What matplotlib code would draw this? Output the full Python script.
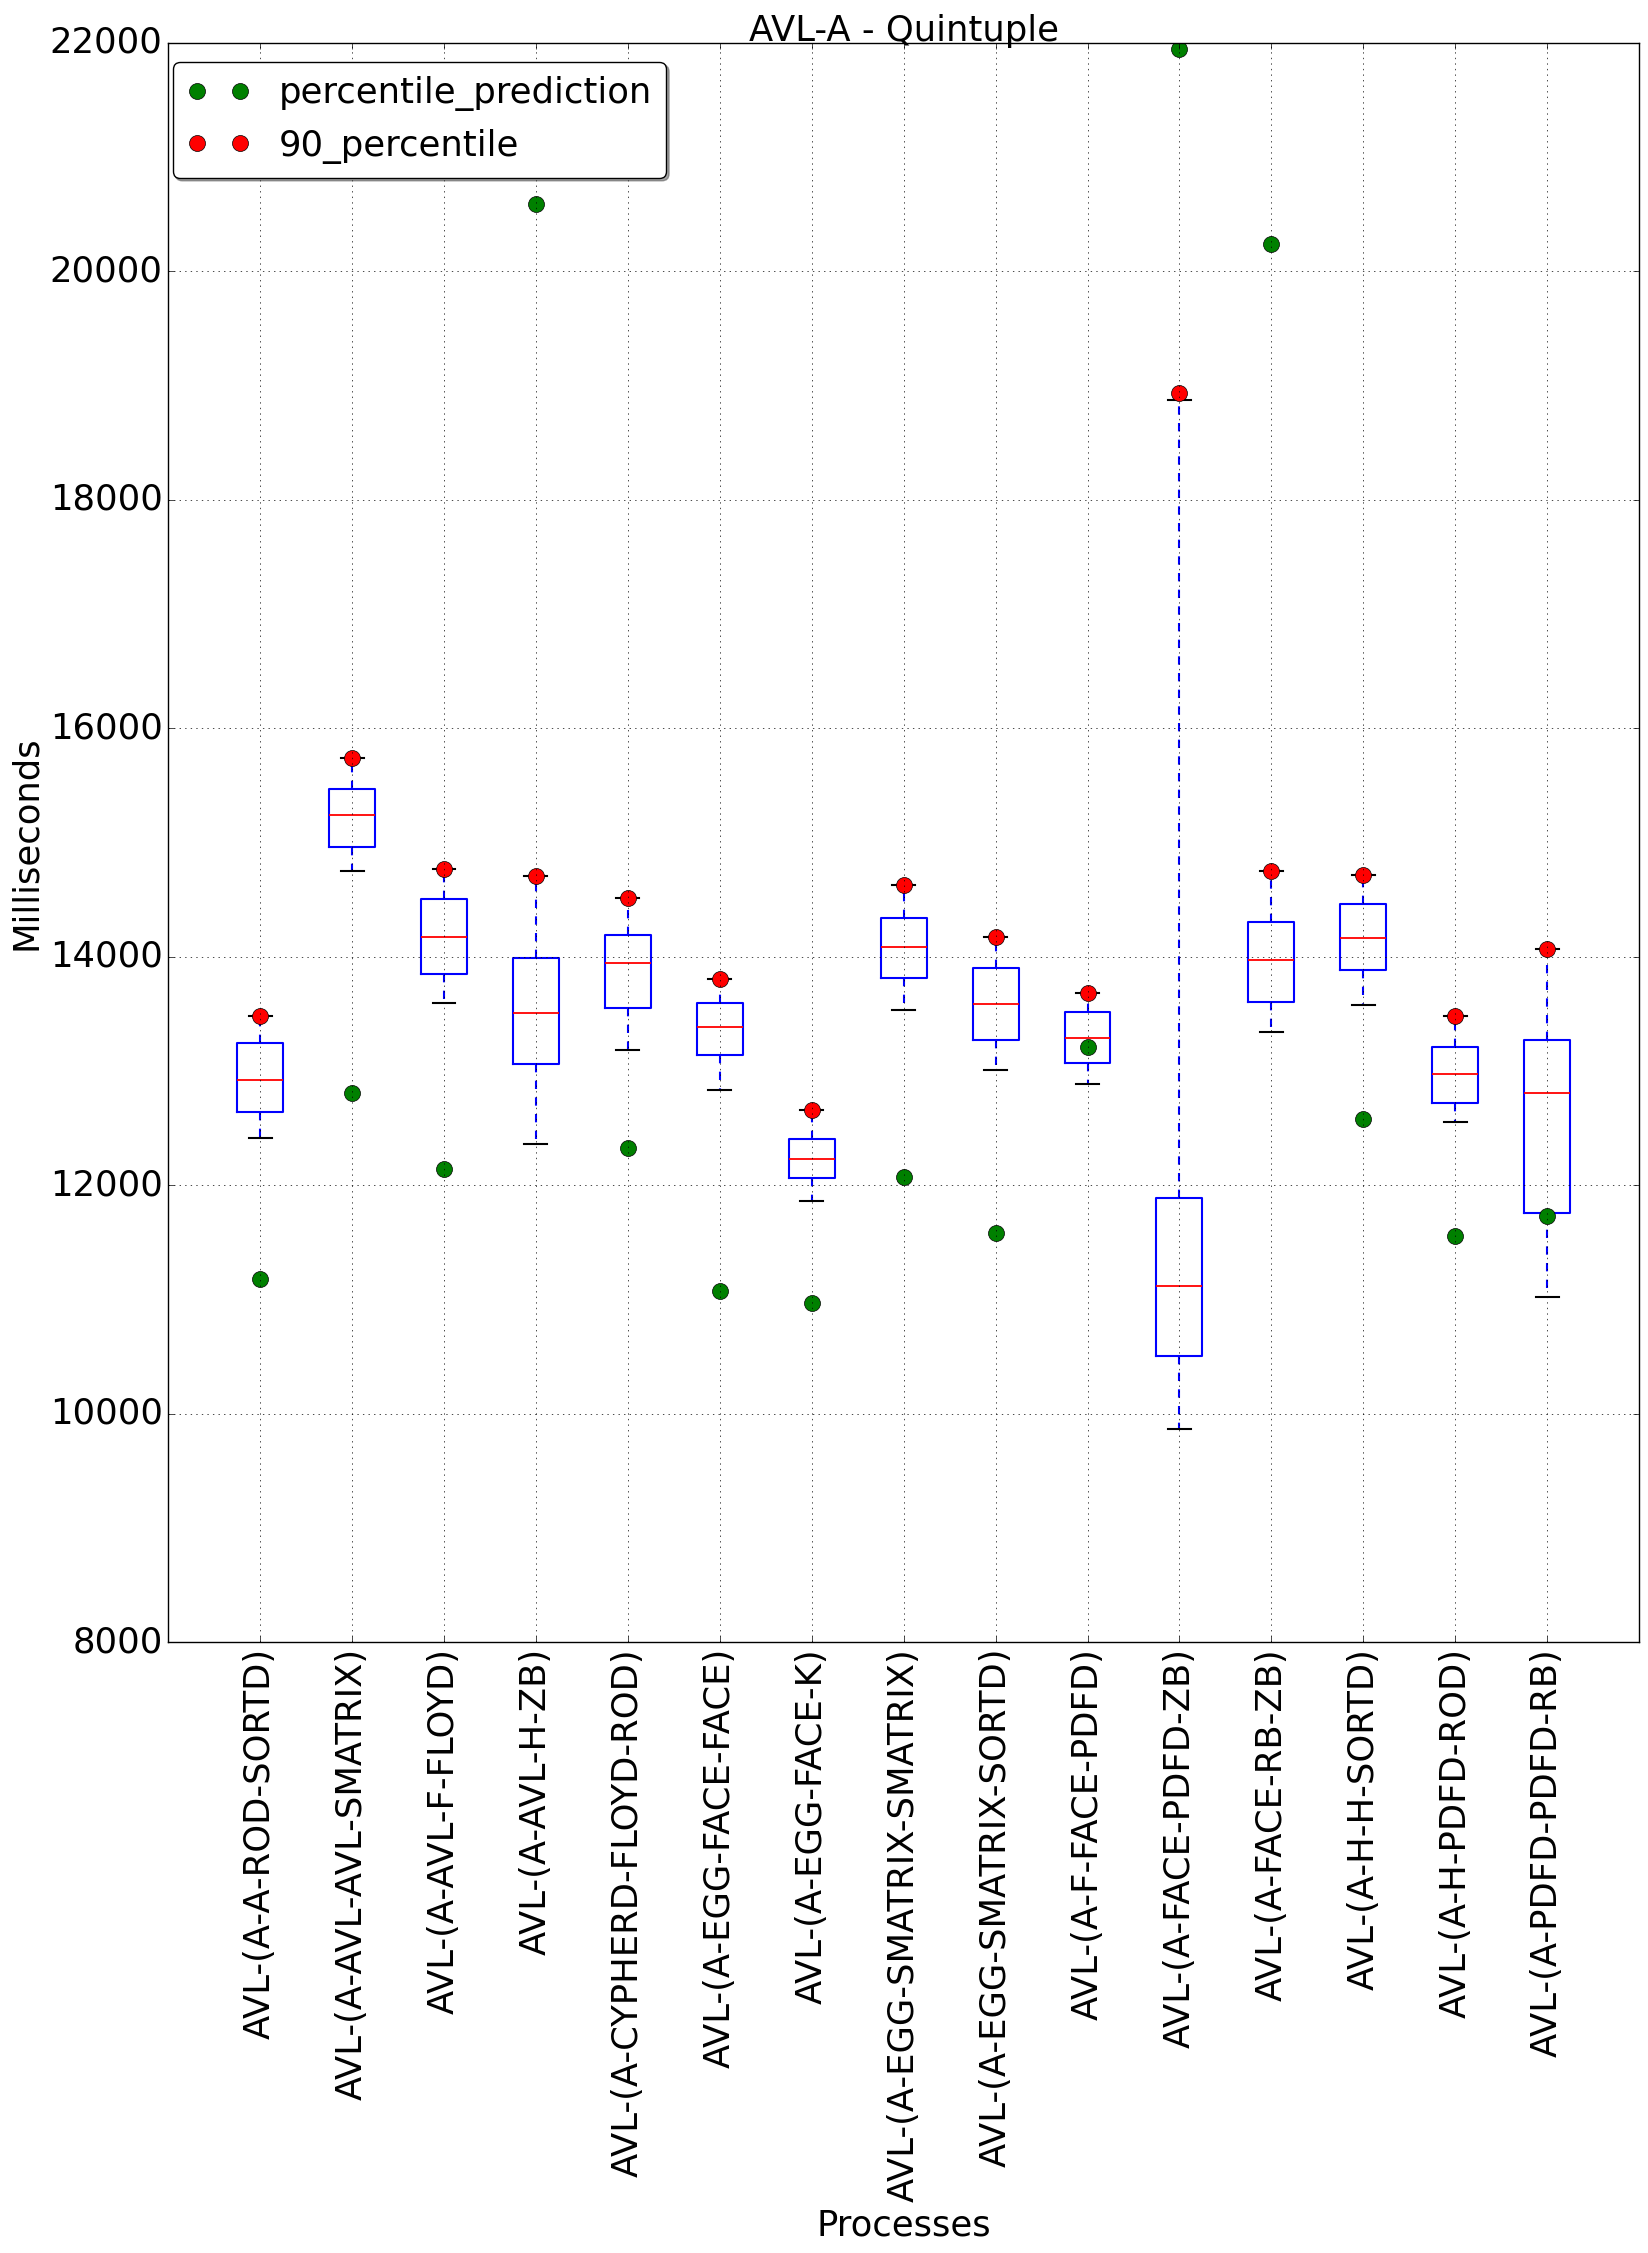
import matplotlib
matplotlib.use("Agg")
import matplotlib.pyplot as plt

# process names (x categories)
processes = [
    "AVL-(A-A-ROD-SORTD)",
    "AVL-(A-AVL-AVL-SMATRIX)",
    "AVL-(A-AVL-F-FLOYD)",
    "AVL-(A-AVL-H-ZB)",
    "AVL-(A-CYPHERD-FLOYD-ROD)",
    "AVL-(A-EGG-FACE-FACE)",
    "AVL-(A-EGG-FACE-K)",
    "AVL-(A-EGG-SMATRIX-SMATRIX)",
    "AVL-(A-EGG-SMATRIX-SORTD)",
    "AVL-(A-F-FACE-PDFD)",
    "AVL-(A-FACE-PDFD-ZB)",
    "AVL-(A-FACE-RB-ZB)",
    "AVL-(A-H-H-SORTD)",
    "AVL-(A-H-PDFD-ROD)",
    "AVL-(A-PDFD-PDFD-RB)",
]

# box statistics (milliseconds)
whisker_low = [12417, 14750, 13593, 12363, 13183, 12838, 11866, 13538, 13012, 12888, 9865, 13344, 13577, 12558, 11025]
q1 = [12643, 14960, 13853, 13060, 13550, 13142, 12067, 13816, 13273, 13072, 10503, 13607, 13883, 12718, 11755]
medians = [12920, 15240, 14173, 13513, 13950, 13387, 12231, 14087, 13588, 13290, 11123, 13969, 14166, 12975, 12810]
q3 = [13250, 15470, 14507, 13993, 14190, 13598, 12405, 14342, 13903, 13518, 11890, 14307, 14460, 13215, 13270]
whisker_high = [13480, 15740, 14770, 14707, 14517, 13809, 12660, 14633, 14178, 13685, 18871, 14755, 14718, 13479, 14067]

# point series
percentile_prediction = [11180, 12807, 12147, 20593, 12327, 11079, 10972, 12077, 11585, 13213, 21950, 20241, 12577, 11558, 11730]
percentile_90 = [13480, 15740, 14770, 14707, 14517, 13809, 12660, 14633, 14178, 13685, 18939, 14755, 14718, 13479, 14067]

plt.style.use("classic")
plt.rcParams["font.size"] = 25.5

fig, ax = plt.subplots(figsize=(16.49, 22.53), dpi=100)
fig.subplots_adjust(left=0.102, right=0.994, top=0.981, bottom=0.271)

stats = []
for i in range(len(processes)):
    stats.append({
        "whislo": whisker_low[i],
        "q1": q1[i],
        "med": medians[i],
        "q3": q3[i],
        "whishi": whisker_high[i],
        "fliers": [],
    })
positions = list(range(1, len(processes) + 1))
ax.bxp(stats, positions=positions, widths=0.5, showfliers=False,
       boxprops=dict(linewidth=1.5, color="b"),
       whiskerprops=dict(linewidth=1.5, color="b", linestyle="--"),
       capprops=dict(linewidth=1.5, color="k"),
       medianprops=dict(linewidth=1.3, color="r"))

ax.plot(positions, percentile_prediction, "o", color="green", markersize=11.5,
        label="percentile_prediction")
ax.plot(positions, percentile_90, "o", color="red", markersize=11.5,
        label="90_percentile")

ax.set_xlim(0, len(processes) + 1)
ax.set_ylim(8000, 22000)
ax.set_xticks(positions)
ax.set_xticklabels(processes, rotation=90)
ax.grid(True)

ax.set_title("AVL-A - Quintuple", fontsize=25.5, pad=1)
ax.set_xlabel("Processes", fontsize=25.5)
ax.set_ylabel("Milliseconds", fontsize=25.5)
ax.legend(loc="upper left", bbox_to_anchor=(0.003, 0.988), borderaxespad=0,
          numpoints=2, shadow=True, fancybox=True, fontsize=25.5,
          handlelength=1.8)

fig.savefig("out.png", dpi=100)
